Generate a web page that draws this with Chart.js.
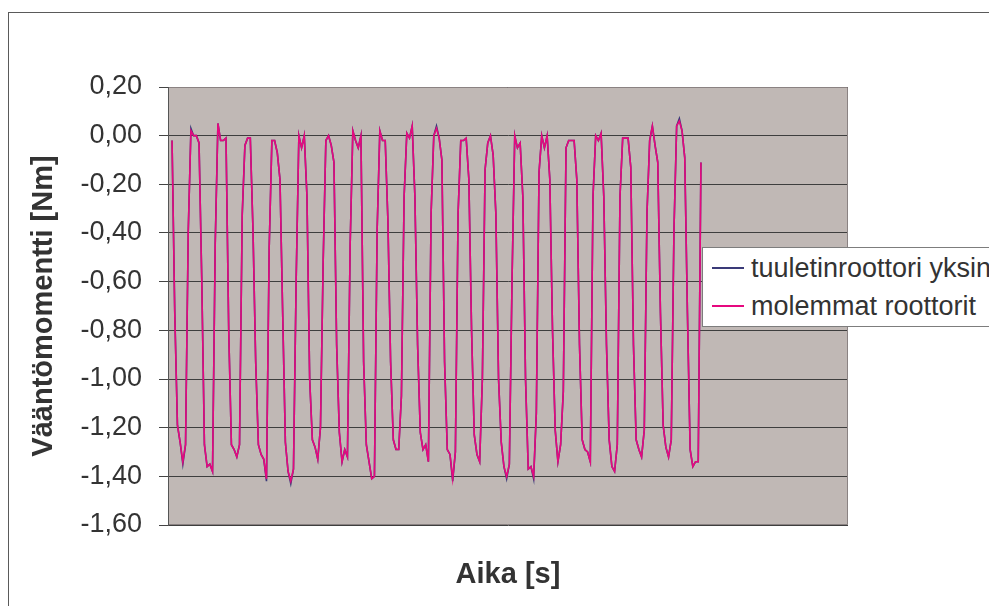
<!DOCTYPE html>
<html>
<head>
<meta charset="utf-8">
<script src="https://cdn.jsdelivr.net/npm/chart.js@4/dist/chart.umd.min.js"></script>
<style>
    html, body { margin: 0; padding: 0; background: #fff; overflow: hidden; }
    #wrap { position: relative; width: 989px; height: 606px; overflow: hidden; }
    #frame { position: absolute; left: 8px; top: 12px; width: 1200px; height: 800px; border: 1px solid #5a5a5a; pointer-events: none; }
    #chart { position: absolute; left: 0; top: 0; }
    #legend {
        position: absolute; left: 702px; top: 247px; width: 400px; height: 77px;
        background: #fff; border: 1px solid #7d7d7d; padding-top: 1px;
        font-family: 'Liberation Sans', Arial, sans-serif; font-size: 27px; color: #333;
    }
    .row { height: 38px; display: flex; align-items: center; white-space: nowrap; }
    .swatch { width: 32px; height: 2px; margin-left: 9px; margin-right: 7px; }
</style>
</head>
<body>
<div id="wrap">
    <canvas id="chart" width="989" height="606"></canvas>
    <div id="frame"></div>
    <div id="legend"></div>
</div>
<script>
// ================= DATOS =================
const xTitle = 'Aika [s]';
const yTitle = 'Vääntömomentti [Nm]';
const seriesNames = ['tuuletinroottori yksin', 'molemmat roottorit'];
const yTicks = [0.20, 0.00, -0.20, -0.40, -0.60, -0.80, -1.00, -1.20, -1.40, -1.60];
const totalSamples = 252; // näytteitä koko akselilla

// tuuletinroottori yksin
const fanOnly = [null,
    -0.02, -0.72, -1.19, -1.26, -1.35, -1.27, -0.40, 0.03, 0.00, 0.00,
    -0.03, -0.58, -1.27, -1.36, -1.35, -1.38, -0.44, 0.05, -0.02, -0.02,
    -0.01, -0.80, -1.27, -1.29, -1.32, -1.27, -0.33, -0.04, -0.01, -0.01,
    -0.39, -0.93, -1.27, -1.31, -1.33, -1.42, -0.46, -0.02, -0.02, -0.07,
    -0.18, -0.73, -1.26, -1.38, -1.43, -1.37, -0.59, 0.00, -0.05, 0.00,
    -0.25, -1.00, -1.25, -1.28, -1.33, -1.20, -0.52, -0.02, 0.00, -0.04,
    -0.11, -0.86, -1.22, -1.34, -1.29, -1.32, -0.45, 0.02, -0.02, -0.05,
    0.00, -0.93, -1.27, -1.34, -1.41, -1.40, -0.39, 0.02, -0.02, -0.02,
    -0.35, -0.93, -1.25, -1.29, -1.29, -1.07, -0.25, 0.01, -0.01, 0.04,
    -0.25, -0.86, -1.22, -1.29, -1.27, -1.34, -0.32, 0.00, 0.04, -0.01,
    -0.10, -0.93, -1.29, -1.31, -1.42, -1.30, -0.32, -0.02, -0.02, -0.01,
    -0.18, -0.80, -1.23, -1.31, -1.34, -1.00, -0.14, -0.03, 0.00, -0.08,
    -0.32, -1.00, -1.26, -1.36, -1.41, -1.35, -0.59, 0.00, -0.05, -0.03,
    -0.25, -1.00, -1.37, -1.36, -1.41, -1.14, -0.15, 0.00, -0.05, 0.00,
    -0.18, -0.80, -1.21, -1.34, -1.27, -1.05, -0.05, -0.02, -0.02, -0.02,
    -0.18, -0.86, -1.25, -1.29, -1.30, -1.34, -0.25, 0.00, -0.02, 0.01,
    -0.25, -0.86, -1.25, -1.36, -1.38, -1.27, -0.25, -0.01, -0.01, -0.01,
    -0.13, -0.86, -1.25, -1.29, -1.32, -1.21, -0.32, -0.02, 0.04, -0.04,
    -0.11, -0.73, -1.19, -1.28, -1.32, -1.25, -0.39, 0.04, 0.07, 0.02,
    -0.09, -0.73, -1.29, -1.36, -1.34, -1.34, -0.11
];

// molemmat roottorit
const bothRotors = [null,
    -0.02, -0.73, -1.19, -1.26, -1.34, -1.27, -0.39, 0.02, 0.00, 0.00,
    -0.03, -0.59, -1.27, -1.36, -1.35, -1.38, -0.45, 0.05, -0.02, -0.02,
    -0.01, -0.80, -1.27, -1.29, -1.32, -1.27, -0.32, -0.04, -0.01, -0.01,
    -0.39, -0.93, -1.27, -1.31, -1.33, -1.41, -0.46, -0.02, -0.02, -0.07,
    -0.18, -0.73, -1.26, -1.38, -1.42, -1.37, -0.59, 0.00, -0.05, 0.00,
    -0.25, -1.00, -1.25, -1.28, -1.33, -1.20, -0.52, -0.02, 0.00, -0.04,
    -0.11, -0.86, -1.22, -1.34, -1.29, -1.32, -0.45, 0.02, -0.02, -0.05,
    0.00, -0.93, -1.27, -1.34, -1.41, -1.40, -0.39, 0.02, -0.02, -0.02,
    -0.35, -0.93, -1.25, -1.29, -1.29, -1.07, -0.25, 0.01, -0.01, 0.04,
    -0.25, -0.86, -1.22, -1.29, -1.27, -1.34, -0.32, 0.00, 0.03, -0.01,
    -0.10, -0.93, -1.29, -1.31, -1.41, -1.30, -0.32, -0.02, -0.02, -0.01,
    -0.18, -0.80, -1.23, -1.31, -1.34, -1.00, -0.14, -0.03, 0.00, -0.08,
    -0.32, -1.00, -1.26, -1.36, -1.40, -1.35, -0.59, 0.00, -0.05, -0.03,
    -0.25, -1.00, -1.37, -1.36, -1.40, -1.14, -0.15, 0.00, -0.05, 0.00,
    -0.18, -0.80, -1.21, -1.34, -1.27, -1.05, -0.05, -0.02, -0.02, -0.02,
    -0.18, -0.86, -1.25, -1.29, -1.30, -1.34, -0.25, 0.00, -0.02, 0.01,
    -0.25, -0.86, -1.25, -1.36, -1.38, -1.27, -0.25, -0.01, -0.01, -0.01,
    -0.13, -0.86, -1.25, -1.29, -1.32, -1.21, -0.32, -0.02, 0.04, -0.04,
    -0.11, -0.73, -1.19, -1.28, -1.32, -1.25, -0.39, 0.04, 0.06, 0.02,
    -0.09, -0.73, -1.29, -1.36, -1.34, -1.34, -0.11
];

const sampleLabels = Array.from({ length: totalSamples }, (_, i) => i);

const colors = ['#3a3a78', '#e6087f'];
const FONT = "'Liberation Sans', Arial, sans-serif";

// ================= FONDO DEL ÁREA =================
const plotArea = {
    id: 'plotArea',
    beforeDraw(chart) {
        const { ctx, chartArea: a } = chart;
        ctx.save();
        ctx.fillStyle = '#c0b8b5';
        ctx.fillRect(a.left, a.top, a.right - a.left, a.bottom - a.top);
        ctx.restore();
    },
    beforeDatasetsDraw(chart) {
        const { ctx, chartArea: a } = chart;
        ctx.save();
        ctx.strokeStyle = '#8a8282';
        ctx.lineWidth = 1;
        ctx.beginPath();
        ctx.moveTo(a.left, a.top + 0.5);
        ctx.lineTo(a.right - 0.5, a.top + 0.5);
        ctx.lineTo(a.right - 0.5, a.bottom - 0.5);
        ctx.lineTo(a.left, a.bottom - 0.5);
        ctx.stroke();
        ctx.strokeStyle = '#555';
        ctx.beginPath();
        ctx.moveTo(a.left + 0.5, a.top);
        ctx.lineTo(a.left + 0.5, a.bottom);
        ctx.stroke();
        ctx.restore();
    }
};

const chart = new Chart(document.getElementById('chart'), {
    type: 'line',
    data: {
        labels: sampleLabels,
        datasets: [
            { label: seriesNames[0], data: fanOnly, borderColor: colors[0], borderWidth: 1.6, order: 1 },
            { label: seriesNames[1], data: bothRotors, borderColor: colors[1], borderWidth: 1.6, order: 0 }
        ]
    },
    options: {
        responsive: false,
        animation: false,
        events: [],
        elements: { point: { radius: 0 }, line: { tension: 0 } },
        layout: { padding: { left: 0, right: 141, top: 87, bottom: 0 } },
        plugins: { legend: { display: false }, tooltip: { enabled: false } },
        scales: {
            x: {
                offset: true,
                grid: { display: false },
                border: { display: false },
                ticks: { display: false },
                title: {
                    display: true, text: xTitle, color: '#333',
                    font: { family: FONT, size: 29, weight: 'bold' },
                    padding: { top: 0, bottom: 14 }
                },
                afterFit: s => { s.height = 81; }
            },
            y: {
                min: yTicks[yTicks.length - 1],
                max: yTicks[0],
                afterBuildTicks: s => { s.ticks = yTicks.map(v => ({ value: v })); },
                grid: { color: '#3e3e3e', lineWidth: 1, tickLength: 9, tickColor: '#444' },
                border: { color: '#555', width: 1 },
                ticks: {
                    color: '#333', padding: 17,
                    font: { family: FONT, size: 27 },
                    callback: v => (Math.abs(v) < 1e-9 ? 0 : v).toFixed(2).replace('.', ',')
                },
                title: {
                    display: true, text: yTitle, color: '#333',
                    font: { family: FONT, size: 29, weight: 'bold' },
                    padding: { top: 27, bottom: 0 }
                },
                afterFit: s => { s.width = 168; }
            }
        }
    },
    plugins: [plotArea]
});

// ================= LEYENDA =================
const legendEl = document.getElementById('legend');
chart.data.datasets.forEach(ds => {
    const row = document.createElement('div');
    row.className = 'row';
    const sw = document.createElement('span');
    sw.className = 'swatch';
    sw.style.background = ds.borderColor;
    const txt = document.createElement('span');
    txt.textContent = ds.label;
    row.appendChild(sw);
    row.appendChild(txt);
    legendEl.appendChild(row);
});
</script>
</body>
</html>
